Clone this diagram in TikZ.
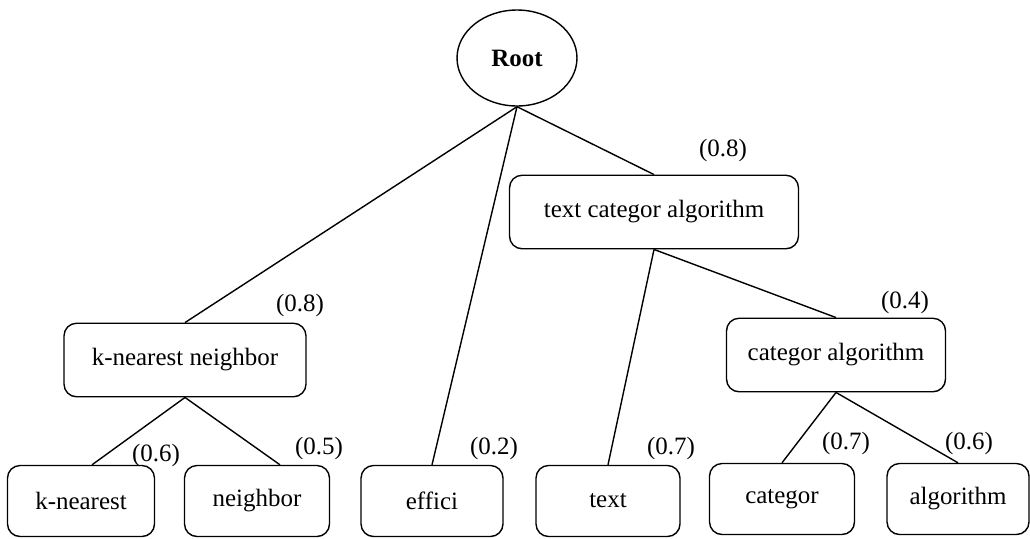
\documentclass[tikz,border=0pt]{standalone}
\usepackage{fontspec}
\setmainfont{Liberation Serif}
\usetikzlibrary{shapes.geometric}
\begin{document}
\begin{tikzpicture}[x=0.02cm,y=-0.02cm,line width=0.8pt,
  every node/.style={font=\fontsize{14.2}{16}\selectfont},
  box/.style={draw,rounded corners=0.25cm,inner sep=0pt,minimum height=1.47cm},
  leaf/.style={box,minimum height=1.42cm},
  weight/.style={inner sep=0pt}]
\useasboundingbox (0,0) rectangle (1030,538);

\node[ellipse,draw,minimum width=2.4cm,minimum height=1.92cm,font=\fontsize{14.2}{16}\selectfont\bfseries] (root) at (517,58) {Root};
\node[box,minimum width=5.78cm] (tca) at (654,212) {text categor algorithm};
\node[box,minimum width=4.84cm] (kn) at (185,360) {k-nearest neighbor};
\node[box,minimum width=4.38cm] (ca) at (836,355) {categor algorithm};

\node[leaf,minimum width=2.94cm] (kne) at (81,501) {k-nearest};
\node[leaf,minimum width=2.9cm] (nb) at (257,501) {neighbor};
\node[leaf,minimum width=2.84cm] (eff) at (432,501) {effici};
\node[leaf,minimum width=2.88cm] (txt) at (608,501) {text};
\node[leaf,minimum width=2.9cm] (cat) at (782,499) {categor};
\node[leaf,minimum width=2.84cm] (alg) at (958,499) {algorithm};

\draw (root.south) -- (kn.north);
\draw (root.south) -- (eff.north);
\draw (root.south) -- (tca.north);
\draw (tca.south) -- (txt.north);
\draw (tca.south) -- (ca.north);
\draw (kn.south) -- ([xshift=0.22cm]kne.north);
\draw (kn.south) -- ([xshift=0.46cm]nb.north);
\draw (ca.south) -- (cat.north);
\draw (ca.south) -- (alg.north);

\node[weight] (w-tca) at (723,150) {(0.8)};
\node[weight] (w-kn) at (300,305) {(0.8)};
\node[weight] (w-ca) at (905,302) {(0.4)};
\node[weight] (w-kne) at (156,455) {(0.6)};
\node[weight] (w-nb) at (319,448) {(0.5)};
\node[weight] (w-eff) at (494,448) {(0.2)};
\node[weight] (w-txt) at (671,448) {(0.7)};
\node[weight] (w-cat) at (846,443) {(0.7)};
\node[weight] (w-alg) at (969,443) {(0.6)};
\end{tikzpicture}
\end{document}
